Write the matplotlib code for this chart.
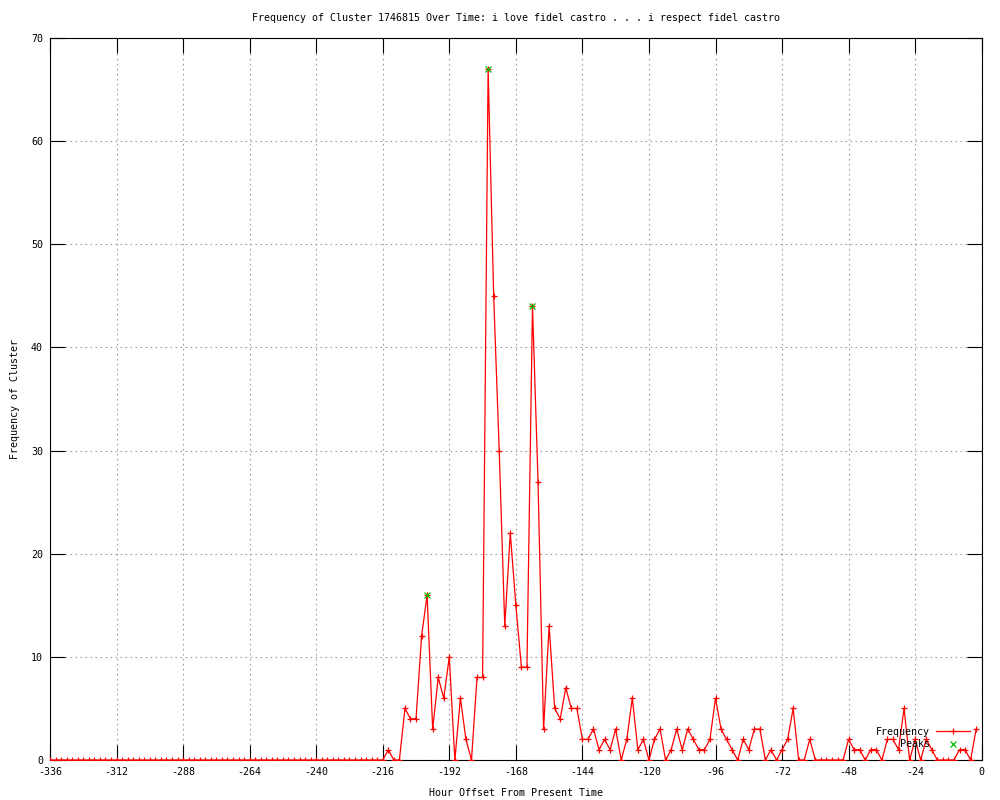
import numpy as np
import matplotlib
matplotlib.use("Agg")
import matplotlib.pyplot as plt

# ---- data ----
hours = np.arange(-336, 0, 2)  # hour offsets -336 .. -2 (one point every 2 hours)
frequency = [
    # -336 .. -218
    0, 0, 0, 0, 0, 0, 0, 0, 0, 0, 0, 0, 0, 0, 0, 0, 0, 0, 0, 0,
    0, 0, 0, 0, 0, 0, 0, 0, 0, 0, 0, 0, 0, 0, 0, 0, 0, 0, 0, 0,
    0, 0, 0, 0, 0, 0, 0, 0, 0, 0, 0, 0, 0, 0, 0, 0, 0, 0, 0, 0,
    # -216 .. -190
    0, 1, 0, 0, 5, 4, 4, 12, 16, 3, 8, 6, 10, 0,
    # -188 .. -162
    6, 2, 0, 8, 8, 67, 45, 30, 13, 22, 15, 9, 9, 44,
    # -160 .. -134
    27, 3, 13, 5, 4, 7, 5, 5, 2, 2, 3, 1, 2, 1,
    # -132 .. -106
    3, 0, 2, 6, 1, 2, 0, 2, 3, 0, 1, 3, 1, 3,
    # -104 .. -78
    2, 1, 1, 2, 6, 3, 2, 1, 0, 2, 1, 3, 3, 0,
    # -76 .. -50
    1, 0, 1, 2, 5, 0, 0, 2, 0, 0, 0, 0, 0, 0,
    # -48 .. -22
    2, 1, 1, 0, 1, 1, 0, 2, 2, 1, 5, 0, 2, 0,
    # -20 .. -2
    2, 1, 0, 0, 0, 0, 1, 1, 0, 3,
]
peak_hours = [-200, -178, -162]
peak_values = [16, 67, 44]

x_ticks = list(range(-336, 1, 24))
y_ticks = list(range(0, 71, 10))

title = "Frequency of Cluster 1746815 Over Time: i love fidel castro . . . i respect fidel castro"
xlabel = "Hour Offset From Present Time"
ylabel = "Frequency of Cluster"

# ---- style ----
plt.rcParams['font.family'] = ['DejaVu Sans Mono', 'DejaVu Sans']
plt.rcParams['axes.unicode_minus'] = False
FS = 7.2

fig = plt.figure(figsize=(10, 8), dpi=100)
ax = fig.add_axes([0.050, 0.050, 0.9317, 0.9025])

ax.plot(hours, frequency, color='#ff0000', lw=0.9, marker='+', markersize=5,
        markeredgewidth=0.9, label='Frequency', zorder=3)
ax.plot(peak_hours, peak_values, linestyle='none', color='#00c000', marker='x',
        markersize=4.5, markeredgewidth=0.9, label='Peaks', zorder=4)

ax.set_xlim(-336, 0)
ax.set_ylim(0, 70)
ax.set_xticks(x_ticks)
ax.set_yticks(y_ticks)
ax.tick_params(direction='in', top=True, right=True, length=11, width=0.8,
               labelsize=FS, pad=5)
ax.grid(True, color='#a0a0a0', linestyle=(0, (1.5, 3)), linewidth=0.8)
ax.set_axisbelow(True)
for s in ax.spines.values():
    s.set_linewidth(0.8)

ax.set_title(title, fontsize=FS, pad=12)
ax.set_xlabel(xlabel, fontsize=FS, labelpad=8)
ax.set_ylabel(ylabel, fontsize=FS, labelpad=8)

leg = ax.legend(loc='lower right', bbox_to_anchor=(0.995, 0.005), frameon=False,
                markerfirst=False, fontsize=FS, handlelength=3.4,
                labelspacing=0.25, handletextpad=0.6, borderpad=0.2)

fig.savefig('out.png', dpi=100)
